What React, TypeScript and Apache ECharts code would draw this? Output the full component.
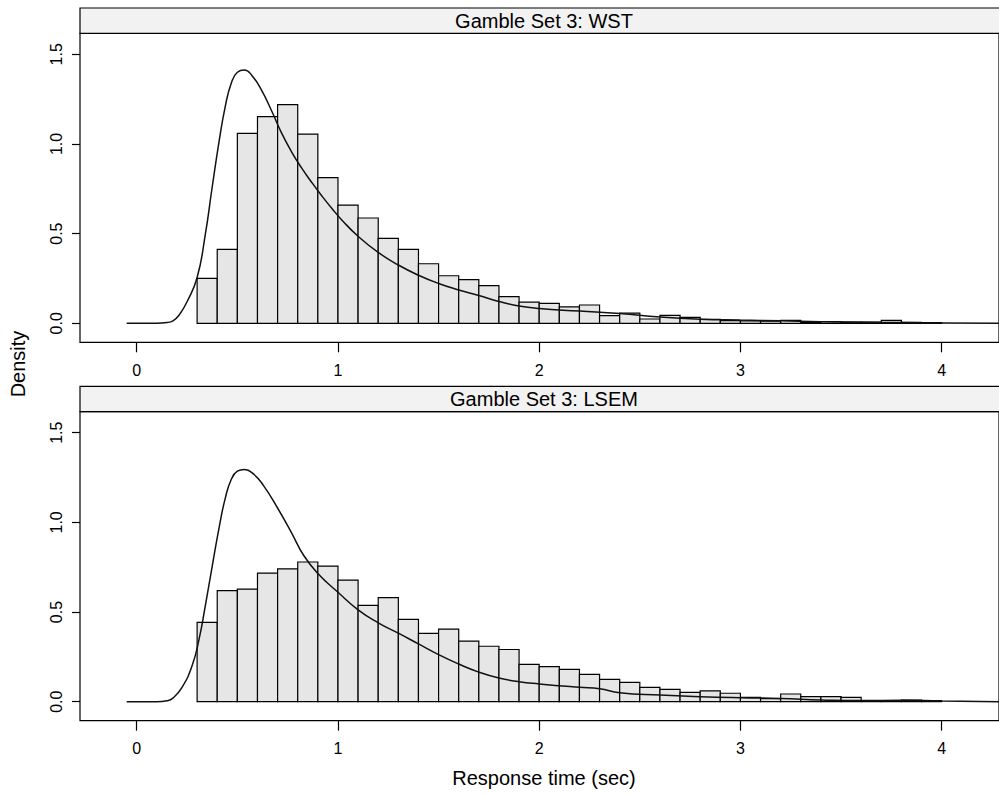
import React, { useEffect, useRef } from "react";
import * as echarts from "echarts";

// ---- data ----
const binStarts = [
  0.3, 0.4, 0.5, 0.6, 0.7, 0.8, 0.9, 1.0, 1.1, 1.2, 1.3, 1.4, 1.5, 1.6, 1.7, 1.8, 1.9,
  2.0, 2.1, 2.2, 2.3, 2.4, 2.5, 2.6, 2.7, 2.8, 2.9, 3.0, 3.1, 3.2, 3.3, 3.4, 3.5, 3.6,
  3.7, 3.8, 3.9,
];
const binWidth = 0.1;

const wstHist = [
  0.251, 0.412, 1.059, 1.152, 1.219, 1.055, 0.812, 0.659, 0.587, 0.474, 0.412, 0.332,
  0.265, 0.243, 0.21, 0.149, 0.118, 0.111, 0.091, 0.102, 0.043, 0.057, 0.024, 0.044,
  0.033, 0.022, 0.015, 0.013, 0.012, 0.016, 0.006, 0.01, 0.006, 0.006, 0.016, 0.005,
  0.004,
];

const lsemHist = [
  0.442, 0.619, 0.628, 0.717, 0.741, 0.779, 0.756, 0.678, 0.537, 0.58, 0.459, 0.381,
  0.405, 0.338, 0.309, 0.291, 0.208, 0.195, 0.18, 0.152, 0.124, 0.108, 0.08, 0.069,
  0.052, 0.06, 0.047, 0.024, 0.017, 0.043, 0.028, 0.028, 0.024, 0.006, 0.004, 0.009,
  0.006,
];

const wstCurve: [number, number][] = [
  [-0.05, 0], [0.1, 0], [0.15, 0.004], [0.18, 0.014], [0.21, 0.045], [0.25, 0.12],
  [0.3, 0.255], [0.34, 0.49], [0.375, 0.76], [0.41, 1.02], [0.44, 1.21],
  [0.47, 1.34], [0.5, 1.4], [0.535, 1.412], [0.57, 1.385], [0.62, 1.3],
  [0.67, 1.185], [0.72, 1.06], [0.77, 0.955], [0.82, 0.865], [0.87, 0.785],
  [0.92, 0.71], [0.97, 0.64], [1.02, 0.575], [1.1, 0.485], [1.2, 0.395],
  [1.3, 0.325], [1.4, 0.268], [1.5, 0.222], [1.6, 0.186], [1.7, 0.155],
  [1.8, 0.122], [1.9, 0.096], [2.0, 0.082], [2.2, 0.068], [2.4, 0.054], [2.6, 0.035],
  [2.8, 0.023], [3.0, 0.018], [3.2, 0.014], [3.4, 0.008], [3.6, 0.006], [3.8, 0.004],
  [4.0, 0.001], [4.285, 0],
];

const lsemCurve: [number, number][] = [
  [-0.05, 0], [0.1, 0], [0.15, 0.005], [0.18, 0.02], [0.225, 0.08], [0.275, 0.2],
  [0.31, 0.35], [0.34, 0.53], [0.375, 0.755], [0.41, 0.975], [0.44, 1.135],
  [0.47, 1.24], [0.5, 1.285], [0.535, 1.295], [0.58, 1.27], [0.63, 1.205],
  [0.7, 1.08], [0.77, 0.94], [0.83, 0.815], [0.9, 0.715], [1.0, 0.61],
  [1.1, 0.512], [1.2, 0.44], [1.3, 0.382], [1.4, 0.322], [1.5, 0.262],
  [1.6, 0.21], [1.7, 0.165], [1.8, 0.132], [1.9, 0.111], [2.0, 0.099],
  [2.2, 0.08], [2.3, 0.072], [2.4, 0.05], [2.6, 0.037], [2.8, 0.028], [3.0, 0.022],
  [3.2, 0.018], [3.4, 0.01], [3.6, 0.006], [3.8, 0.008], [4.0, 0.004], [4.285, 0],
];

const xTicks = [0, 1, 2, 3, 4];
const yTicks = [0, 0.5, 1.0, 1.5];
const panelTitles = ["Gamble Set 3: WST", "Gamble Set 3: LSEM"];
const xTitle = "Response time (sec)";
const yTitle = "Density";

const FONT = "'Liberation Sans', Arial, Helvetica, sans-serif";

export default function App() {
  const ref = useRef<HTMLDivElement>(null);

  useEffect(() => {
    document.body.style.margin = "0";
    if (!ref.current) return;
    const chart = echarts.init(ref.current, undefined, { renderer: "svg" });

    const panelLeft = 80;
    const panelWidth = 928;
    const panelHeight = 309;
    const panelTops = [33.3, 411.7];
    const stripH = 25.3;
    const xMin = -0.282;
    const xMax = 4.285;
    const yMin = -0.106;
    const yMax = 1.617;

    const hists = [wstHist, lsemHist];
    const curves = [wstCurve, lsemCurve];

    const grids = panelTops.map((t) => ({
      left: panelLeft,
      top: t,
      width: panelWidth,
      height: panelHeight,
      show: true,
      borderColor: "#000",
      borderWidth: 1.2,
      backgroundColor: "transparent",
    }));

    const xAxes = panelTops.map((_, i) => ({
      type: "value",
      gridIndex: i,
      min: xMin,
      max: xMax,
      axisLine: { show: false, onZero: false },
      axisTick: {
        show: true,
        length: 10,
        lineStyle: { color: "#000", width: 1.2 },
        customValues: xTicks,
      },
      axisLabel: {
        customValues: xTicks,
        fontSize: 16,
        color: "#000",
        fontFamily: FONT,
        margin: 20,
        formatter: (v: number) => String(v),
      },
      splitLine: { show: false },
    }));

    const yAxes = panelTops.map((_, i) => ({
      type: "value",
      gridIndex: i,
      min: yMin,
      max: yMax,
      axisLine: { show: false, onZero: false },
      axisTick: {
        show: true,
        length: 8,
        lineStyle: { color: "#000", width: 1.2 },
        customValues: yTicks,
      },
      axisLabel: {
        customValues: yTicks,
        rotate: 90,
        fontSize: 16,
        color: "#000",
        fontFamily: FONT,
        margin: 16,
        formatter: (v: number) => v.toFixed(1),
      },
      splitLine: { show: false },
    }));

    const series: any[] = [];
    hists.forEach((h, i) => {
      series.push({
        type: "custom",
        xAxisIndex: i,
        yAxisIndex: i,
        clip: true,
        encode: { x: [0, 1], y: 2 },
        data: binStarts.map((s, k) => [s, s + binWidth, h[k]]),
        renderItem: (params: any, api: any) => {
          const p0 = api.coord([api.value(0), 0]);
          const p1 = api.coord([api.value(1), api.value(2)]);
          return {
            type: "rect",
            shape: {
              x: p0[0],
              y: p1[1],
              width: p1[0] - p0[0],
              height: p0[1] - p1[1],
            },
            style: { fill: "#e6e6e6", stroke: "#000", lineWidth: 1.2 },
          };
        },
        z: 2,
      });
      series.push({
        type: "line",
        xAxisIndex: i,
        yAxisIndex: i,
        data: curves[i],
        showSymbol: false,
        symbol: "none",
        smooth: 0.5,
        lineStyle: { color: "#111", width: 1.5 },
        z: 3,
      });
    });

    const graphics: any[] = [];
    panelTops.forEach((t, i) => {
      graphics.push({
        type: "rect",
        shape: { x: panelLeft, y: t - stripH, width: panelWidth, height: stripH },
        style: { fill: "#f2f2f2", stroke: "#000", lineWidth: 1.2 },
        z: 10,
      });
      graphics.push({
        type: "text",
        x: panelLeft + panelWidth / 2,
        y: t - stripH / 2,
        style: {
          text: panelTitles[i],
          fill: "#000",
          font: `20px ${FONT}`,
          align: "center",
          verticalAlign: "middle",
        },
        z: 11,
      });
    });
    graphics.push({
      type: "text",
      x: 18,
      y: 364,
      rotation: Math.PI / 2,
      style: {
        text: yTitle,
        fill: "#000",
        font: `20px ${FONT}`,
        align: "center",
        verticalAlign: "middle",
      },
      z: 11,
    });
    graphics.push({
      type: "text",
      x: panelLeft + panelWidth / 2,
      y: 778,
      style: {
        text: xTitle,
        fill: "#000",
        font: `20px ${FONT}`,
        align: "center",
        verticalAlign: "middle",
      },
      z: 11,
    });

    chart.setOption({
      animation: false,
      backgroundColor: "#fff",
      grid: grids,
      xAxis: xAxes,
      yAxis: yAxes,
      series,
      graphic: graphics,
    });

    return () => chart.dispose();
  }, []);

  return <div ref={ref} style={{ width: 999, height: 795 }} />;
}
